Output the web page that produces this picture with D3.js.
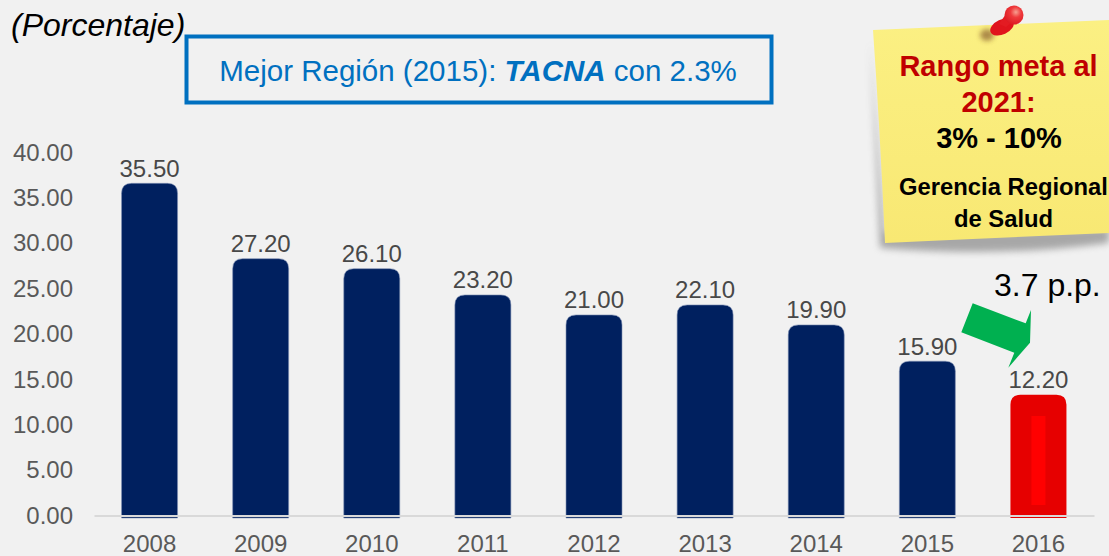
<!DOCTYPE html>
<html><head><meta charset="utf-8">
<script src="https://cdnjs.cloudflare.com/ajax/libs/d3/7.8.5/d3.min.js"></script>
<style>html,body{margin:0;padding:0;background:#f1f1f1;overflow:hidden}svg{display:block;font-family:"Liberation Sans",Arial,sans-serif}</style>
</head><body><svg id="c" width="1109" height="556"></svg>
<script>
const years = ["2008","2009","2010","2011","2012","2013","2014","2015","2016"];
const values = [35.5,27.2,26.1,23.2,21.0,22.1,19.9,15.9,12.2];
const yTicks = [0,5,10,15,20,25,30,35,40];
const highlightYear = "2016";

const svg = d3.select("#c");
const defs = svg.append("defs");
const blur = defs.append("filter").attr("id","blur").attr("x","-20%").attr("y","-20%").attr("width","140%").attr("height","140%");
blur.append("feGaussianBlur").attr("stdDeviation",3.5);
const blur2 = defs.append("filter").attr("id","blur2").attr("x","-50%").attr("y","-50%").attr("width","200%").attr("height","200%");
blur2.append("feGaussianBlur").attr("stdDeviation",2.5);
const ng = defs.append("linearGradient").attr("id","note").attr("x1",0).attr("y1",0).attr("x2",0).attr("y2",1);
ng.append("stop").attr("offset","0%").attr("stop-color","#fbf083");
ng.append("stop").attr("offset","100%").attr("stop-color","#f8e873");
const pg = defs.append("radialGradient").attr("id","pin").attr("cx","0.6").attr("cy","0.35").attr("r","0.7");
pg.append("stop").attr("offset","0%").attr("stop-color","#f7a090");
pg.append("stop").attr("offset","40%").attr("stop-color","#ef3a3c");
pg.append("stop").attr("offset","100%").attr("stop-color","#dc1820");

const x = d3.scaleBand().domain(years).range([94,1094]).padding(0.496).paddingOuter(0.248);
const y = d3.scaleLinear().domain([0,40]).range([515.5,152.5]);
const barLift = 10, barFoot = 518;
const barW = x.bandwidth();

function roundedTop(xl,t,w,b,r){
  return `M${xl},${b}V${t+r}Q${xl},${t} ${xl+r},${t}H${xl+w-r}Q${xl+w},${t} ${xl+w},${t+r}V${b}Z`;
}

svg.append("text").attr("x",11).attr("y",36).attr("font-size",32).attr("font-style","italic").attr("fill","#000").text("(Porcentaje)");

svg.append("rect").attr("x",186.5).attr("y",36.5).attr("width",585).attr("height",66).attr("fill","none").attr("stroke","#0070c0").attr("stroke-width",4);
const t = svg.append("text").attr("x",478).attr("y",81).attr("text-anchor","middle").attr("font-size",29.5).attr("fill","#0070c0");
t.append("tspan").text("Mejor Región (2015): ");
t.append("tspan").attr("font-weight","bold").attr("font-style","italic").text("TACNA");
t.append("tspan").text(" con 2.3%");

// y axis
const yAxis = d3.axisLeft(y).tickValues(yTicks).tickFormat(d3.format(".2f")).tickSize(0).tickPadding(0);
const ya = svg.append("g").attr("transform","translate(73,0)").call(yAxis);
ya.select(".domain").remove();
ya.selectAll("text").attr("font-size",24).attr("fill","#595959").attr("font-family","Liberation Sans");

// bars
svg.append("g").selectAll("path").data(values).join("path")
  .attr("d",(d,i)=>roundedTop(x(years[i]),y(d)-barLift,barW,barFoot,10))
  .attr("fill",(d,i)=>years[i]===highlightYear?"#e60000":"#00205f")
  .attr("stroke",(d,i)=>years[i]===highlightYear?"none":"#8090b4").attr("stroke-width",0.6);
// inner highlight on the final bar
svg.append("rect").attr("x",x(highlightYear)+21).attr("width",barW-42)
  .attr("y",416).attr("height",89).attr("fill","#ff0000");

// x axis
const xAxis = d3.axisBottom(x).tickSize(0).tickPadding(0);
const xa = svg.append("g").attr("transform","translate(0,515.5)").call(xAxis);
xa.select(".domain").attr("stroke","#d9d9d9").attr("stroke-width",2);
xa.selectAll("text").attr("font-size",24).attr("fill","#595959").attr("font-family","Liberation Sans").attr("y",36).attr("dy","0");

// data labels
svg.append("g").selectAll("text").data(values).join("text")
  .attr("x",(d,i)=>x(years[i])+barW/2).attr("y",d=>y(d)-barLift-6.5)
  .attr("text-anchor","middle").attr("font-size",24).attr("fill","#484848")
  .text(d=>d3.format(".2f")(d));

// arrow
svg.append("polygon").attr("fill","#00b050")
  .attr("points","972.7,303.3 1025.7,323.3 1031,310 1030,342.7 1008.3,367.7 1014.3,352.7 961.3,332.3");
svg.append("text").attr("x",994).attr("y",296).attr("font-size",32).attr("fill","#000").text("3.7 p.p.");

// note
svg.append("path").attr("d","M870,40 Q876,150 880,248 Q1000,258 1109,243 L1109,228 L885,232 Z").attr("fill","#777").attr("opacity",0.6).attr("filter","url(#blur)");
svg.append("path").attr("d","M873,30 L1109,20 L1109,233 Q990,238 885,243 Q880,130 873,30 Z").attr("fill","url(#note)");
// pin
svg.append("ellipse").attr("cx",987).attr("cy",35).attr("rx",7).attr("ry",6).attr("fill","#7a4a20").attr("opacity",0.6).attr("filter","url(#blur2)");
svg.append("ellipse").attr("cx",1002).attr("cy",27).attr("rx",12.5).attr("ry",7.5).attr("transform","rotate(-25 1002 27)").attr("fill","#e0141c");
svg.append("path").attr("d","M999,24 L1008,11 L1017,18 L1006,27 Z").attr("fill","#e31b22");
svg.append("ellipse").attr("cx",1014).attr("cy",15).attr("rx",9.5).attr("ry",9.5).attr("fill","url(#pin)");

const note = svg.append("g").attr("text-anchor","middle").attr("font-weight","bold");
note.append("text").attr("x",998.5).attr("y",76).attr("font-size",29).attr("fill","#c00000").text("Rango meta al");
note.append("text").attr("x",998.5).attr("y",112).attr("font-size",29).attr("fill","#c00000").text("2021:");
note.append("text").attr("x",999).attr("y",148).attr("font-size",29).attr("fill","#000").text("3% - 10%");
note.append("text").attr("x",1003.5).attr("y",195).attr("font-size",23.8).attr("fill","#000").text("Gerencia Regional");
note.append("text").attr("x",1003.5).attr("y",227).attr("font-size",23.8).attr("fill","#000").text("de Salud");
</script></body></html>
